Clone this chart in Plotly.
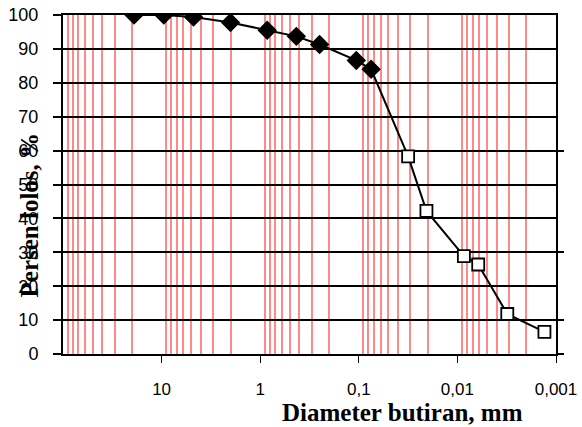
import plotly.graph_objects as go

# Sieve analysis (diamonds)
diam_sieve = [19.05, 9.5, 4.75, 2.0, 0.85, 0.43, 0.25, 0.106, 0.075]
pass_sieve = [100.0, 100.0, 99.4, 97.8, 95.5, 93.7, 91.3, 86.6, 84.0]
# Hydrometer analysis (squares)
diam_hydro = [0.0316, 0.0206, 0.0086, 0.00615, 0.00312, 0.00131]
pass_hydro = [58.3, 42.2, 28.9, 26.4, 11.8, 6.5]

x_tickvals = [10, 1, 0.1, 0.01, 0.001]
x_ticktext = ["10", "1", "0,1", "0,01", "0,001"]
y_tickvals = [0, 10, 20, 30, 40, 50, 60, 70, 80, 90, 100]
minor_vals = [k * 10.0 ** n for n in range(-3, 2) for k in range(2, 10)]
right_ticks = [0, 10, 30, 60]

x_all = diam_sieve + diam_hydro
y_all = pass_sieve + pass_hydro
symbols = ["diamond"] * len(diam_sieve) + ["square"] * len(diam_hydro)
fills = ["black"] * len(diam_sieve) + ["white"] * len(diam_hydro)
sizes = [13] * len(diam_sieve) + [12] * len(diam_hydro)

fig = go.Figure()
fig.add_trace(go.Scatter(
    x=x_all, y=y_all, mode="lines+markers",
    line=dict(color="black", width=2),
    marker=dict(symbol=symbols, color=fills, size=sizes, opacity=1,
                line=dict(color="black", width=1.8)),
    showlegend=False,
))
# invisible trace for right-side axis tick marks
fig.add_trace(go.Scatter(x=[1], y=[0], yaxis="y2", mode="markers",
                         marker=dict(opacity=0), showlegend=False, hoverinfo="skip"))

axis_font = dict(family="Liberation Sans, Arial", size=18, color="black")
fig.update_layout(
    width=582, height=427,
    margin=dict(l=63, r=26, t=15, b=73, autoexpand=False),
    paper_bgcolor="white", plot_bgcolor="white",
    xaxis=dict(
        type="log", range=[2, -3], automargin=False,
        tickmode="array", tickvals=x_tickvals, ticktext=x_ticktext,
        ticks="outside", ticklen=7, tickcolor="black", tickwidth=1,
        tickfont=dict(family="Liberation Sans, Arial", size=17, color="black"),
        ticklabelstandoff=12, ticklabeloverflow="allow",
        showgrid=False, zeroline=False,
        showline=True, linecolor="black", linewidth=2, mirror=True,
        minor=dict(tickmode="array", tickvals=minor_vals, showgrid=True,
                   gridcolor="#ff8888", gridwidth=2, ticks=""),
    ),
    yaxis=dict(
        range=[0, 100], tickmode="array", tickvals=y_tickvals, automargin=False,
        ticks="outside", ticklen=8, tickcolor="black", tickwidth=1.5,
        tickfont=axis_font, ticklabelstandoff=11, ticklabeloverflow="allow",
        showgrid=True, gridcolor="black", gridwidth=2, zeroline=False,
        showline=True, linecolor="black", linewidth=2, mirror=True,
    ),
    yaxis2=dict(
        range=[0, 100], overlaying="y", side="right", automargin=False,
        tickmode="array", tickvals=right_ticks, showticklabels=False,
        ticks="outside", ticklen=7, tickcolor="black", tickwidth=1.5,
        showgrid=False, zeroline=False, showline=False,
    ),
    annotations=[
        dict(text="<b>Diameter butiran, mm</b>", xref="paper", yref="paper",
             x=0.688, y=-0.172, xanchor="center", yanchor="middle", showarrow=False,
             font=dict(family="Liberation Serif, Times New Roman", size=25, color="black")),
        dict(text="<b>Persen lolos, %</b>", xref="paper", yref="paper",
             x=-0.068, y=0.41, xanchor="center", yanchor="middle", showarrow=False,
             textangle=-90,
             font=dict(family="Liberation Serif, Times New Roman", size=25, color="black")),
    ],
)

fig.write_html("out.html", config={"displayModeBar": False},
               post_script="document.body.style.margin='0px';")
